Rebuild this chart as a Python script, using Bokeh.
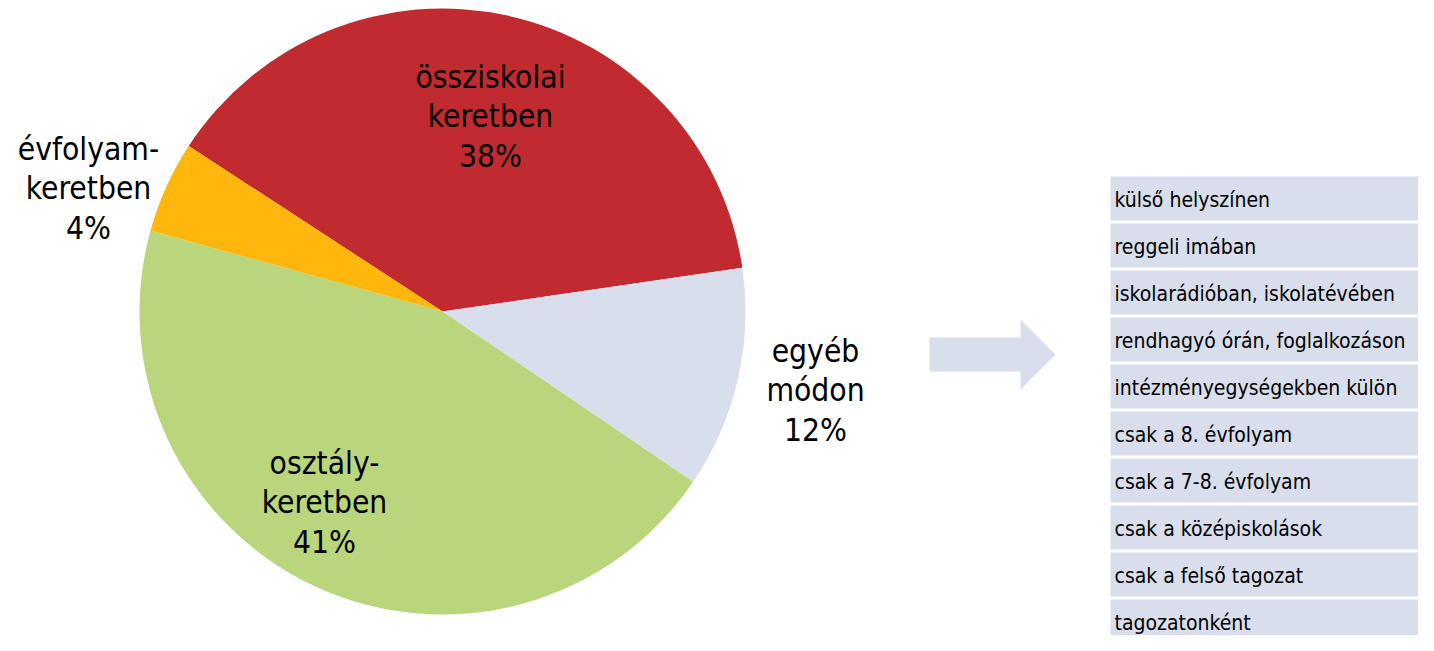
import math
from bokeh.plotting import figure
from bokeh.models import Range1d, ColumnDataSource
from bokeh.core.properties import value
from bokeh.embed import file_html
from bokeh.resources import INLINE

# ---- data ----
categories = ["összsiskolai keretben", "egyéb módon", "osztálykeretben", "évfolyamkeretben"]
shares = [38.5, 11.8, 44.8, 4.9]          # slice sizes as drawn
label_texts = ["össziskolai\nkeretben\n38%", "egyéb\nmódon\n12%",
               "osztály-\nkeretben\n41%", "évfolyam-\nkeretben\n4%"]
colors = ["#C12B2F", "#D9DEEC", "#B9D67C", "#FFB70E"]
list_items = ["külső helyszínen", "reggeli imában", "iskolarádióban, iskolatévében",
              "rendhagyó órán, foglalkozáson", "intézményegységekben külön",
              "csak a 8. évfolyam", "csak a 7-8. évfolyam", "csak a középiskolások",
              "csak a felső tagozat", "tagozatonként"]

# ---- layout constants (picture pixel coords) ----
W, H = 1418, 635
FONT = "'DejaVu Sans Condensed', 'DejaVu Sans', sans-serif"

p = figure(width=W, height=H, output_backend="svg", toolbar_location=None,
           x_range=Range1d(0, W), y_range=Range1d(0, H),
           x_axis_location=None, y_axis_location=None, min_border=0)
p.grid.visible = False
p.outline_line_color = None
p.background_fill_color = "white"

def Yp(py):
    return H - py

# pie
cx, cy, r = 442, Yp(311), 303
start = 146.9
total = sum(shares)
starts, ends = [], []
a = start
for s in shares:
    b = a - s / total * 360.0
    starts.append(math.radians(b))
    ends.append(math.radians(a))
    a = b
src = ColumnDataSource(dict(x=[cx] * 4, y=[cy] * 4, s=starts, e=ends, c=colors, cat=categories))
p.wedge(x="x", y="y", radius=r, start_angle="s", end_angle="e", direction="anticlock",
        fill_color="c", line_color=None, source=src)

# labels
lx = [490, 815, 324, 88]
ly = [Yp(116), Yp(390), Yp(502), Yp(188)]
p.text(x=lx, y=ly, text=label_texts, text_align="center", text_baseline="middle",
       text_font=value(FONT), text_font_size="31.5px", text_line_height=1.1, text_color="black")

# arrow
ax = [929, 1020, 1020, 1055, 1020, 1020, 929]
ay = [Yp(337), Yp(337), Yp(319), Yp(354), Yp(389), Yp(371), Yp(371)]
p.patch(ax, ay, fill_color="#D9DEEC", line_color=None)

# list
top0, rh, gap = 176, 47.0, 3
lefts, rights, tops, bots, tx, ty = [], [], [], [], [], []
for i, t in enumerate(list_items):
    t0 = top0 + i * rh
    tops.append(Yp(t0))
    bots.append(Yp(min(t0 + rh - gap, H)))
    lefts.append(1110)
    rights.append(W)
    tx.append(1114)
    ty.append(Yp(t0 + (rh - gap) / 2 + 1))
p.quad(left=lefts, right=rights, top=tops, bottom=bots, fill_color="#D9DEEC", line_color=None)
p.text(x=tx, y=ty, text=list_items, text_align="left", text_baseline="middle",
       text_font=value(FONT), text_font_size="21px", text_color="black")

open("out.html", "w").write(file_html(p, INLINE))
